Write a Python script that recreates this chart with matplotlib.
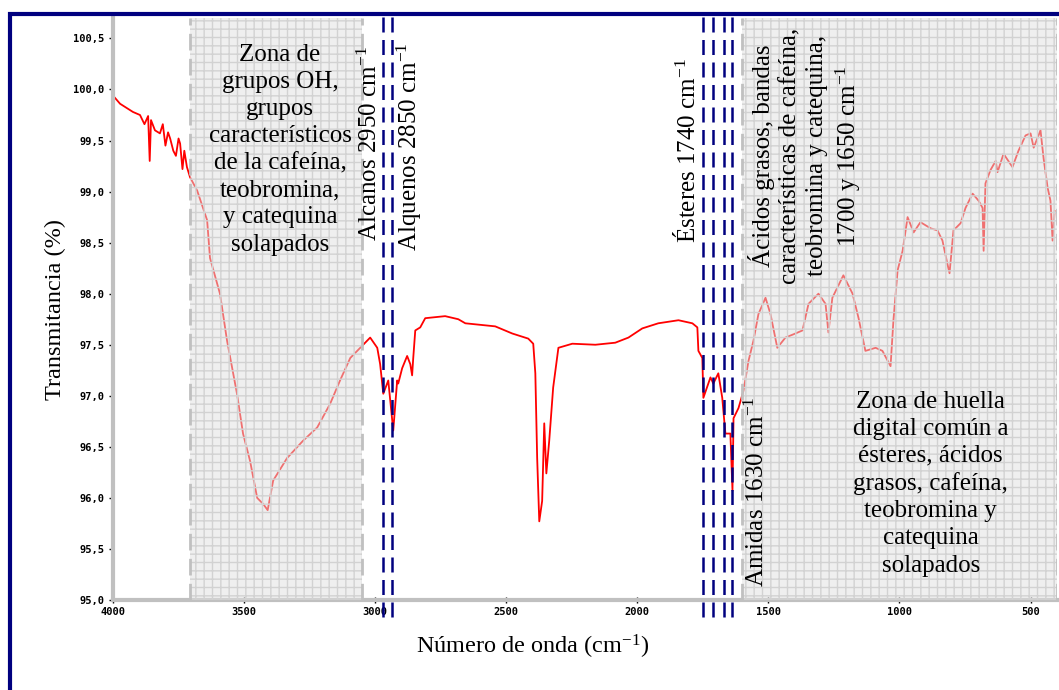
import matplotlib
matplotlib.use("Agg")
import matplotlib.pyplot as plt
from matplotlib.patches import Rectangle

# espectro FTIR (numero de onda cm-1, transmitancia %)
wavenumber = [4000, 3973, 3924, 3897, 3880, 3866, 3860, 3855, 3840, 3821, 3810, 3800, 3790,
              3782, 3770, 3760, 3750, 3744, 3735, 3728, 3718, 3706, 3679, 3641, 3630, 3592,
              3565, 3527, 3504, 3477, 3450, 3427, 3410, 3389, 3336, 3275, 3221, 3172, 3134,
              3095, 3057, 3019, 2992, 2981, 2969, 2950, 2931, 2916, 2912, 2897, 2878, 2866,
              2859, 2855, 2847, 2828, 2809, 2733, 2683, 2656, 2542, 2477, 2416, 2397, 2389,
              2382, 2374, 2363, 2355, 2347, 2336, 2321, 2301, 2275, 2248, 2160, 2084, 2034,
              1981, 1920, 1843, 1790, 1771, 1767, 1752, 1748, 1721, 1710, 1691, 1676, 1664,
              1645, 1637, 1633, 1614, 1595, 1576, 1557, 1538, 1511, 1492, 1466, 1435, 1397,
              1370, 1347, 1309, 1282, 1271, 1256, 1214, 1179, 1156, 1130, 1091, 1065, 1034,
              1023, 1007, 988, 969, 946, 920, 881, 855, 836, 817, 809, 794, 767, 748, 721,
              698, 683, 679, 672, 653, 633, 626, 603, 569, 546, 519, 500, 488, 462, 450,
              435, 424, 416, 408]
transmittance = [99.94, 99.86, 99.78, 99.75, 99.66, 99.74, 99.30, 99.70, 99.60, 99.57, 99.66,
                 99.45, 99.58, 99.52, 99.40, 99.35, 99.52, 99.47, 99.22, 99.40, 99.24, 99.14,
                 99.01, 98.72, 98.35, 98.00, 97.54, 97.02, 96.63, 96.36, 96.00, 95.94, 95.88,
                 96.17, 96.39, 96.56, 96.69, 96.92, 97.15, 97.37, 97.47, 97.57, 97.47, 97.31,
                 97.02, 97.15, 96.66, 97.15, 97.12, 97.27, 97.39, 97.31, 97.20, 97.36, 97.64,
                 97.67, 97.76, 97.78, 97.75, 97.71, 97.68, 97.61, 97.56, 97.51, 97.22, 96.39,
                 95.77, 95.97, 96.73, 96.24, 96.56, 97.08, 97.47, 97.49, 97.51, 97.50, 97.52,
                 97.57, 97.66, 97.71, 97.74, 97.71, 97.67, 97.44, 97.37, 96.98, 97.18, 97.12,
                 97.22, 96.98, 96.63, 96.63, 96.07, 96.78, 96.88, 97.05, 97.34, 97.54, 97.80,
                 97.96, 97.80, 97.47, 97.57, 97.61, 97.64, 97.90, 98.00, 97.90, 97.62, 97.96,
                 98.18, 98.00, 97.76, 97.44, 97.47, 97.44, 97.29, 97.74, 98.23, 98.42, 98.75,
                 98.60, 98.70, 98.64, 98.62, 98.52, 98.29, 98.20, 98.62, 98.69, 98.84, 98.98,
                 98.91, 98.84, 98.42, 99.08, 99.21, 99.30, 99.19, 99.37, 99.24, 99.40, 99.55,
                 99.57, 99.43, 99.60, 99.32, 99.04, 98.91, 98.52, 98.81]

# zonas sombreadas y bandas marcadas
zones = [(3706, 3050), (1600, 401)]
band_lines = [2969, 2935, 1748, 1710, 1668, 1637]

x_ticks = [4000, 3500, 3000, 2500, 2000, 1500, 1000, 500]
y_ticks = [95.0, 95.5, 96.0, 96.5, 97.0, 97.5, 98.0, 98.5, 99.0, 99.5, 100.0, 100.5]
y_tick_labels = ["95,0", "95,5", "96,0", "96,5", "97,0", "97,5", "98,0", "98,5",
                 "99,0", "99,5", "100,0", "100,5"]

serif = "Liberation Serif"
navy = "#00007f"
plt.rcParams["mathtext.fontset"] = "custom"
plt.rcParams["mathtext.rm"] = serif
plt.rcParams["mathtext.it"] = serif + ":italic"

fig = plt.figure(figsize=(10.59, 6.90), dpi=100)
ax = fig.add_axes([113 / 1059, 1 - 600 / 690, 943.5 / 1059, 582 / 690])

ax.plot(wavenumber, transmittance, color="red", lw=1.3, zorder=2)

for lo, hi in zones:
    ax.axvspan(lo, hi, facecolor="#e0e0e0", alpha=0.5, lw=0, zorder=3)
    ax.axvspan(lo, hi, fill=False, hatch="++", edgecolor="#d2d2d2", lw=0, zorder=3)
    for edge in (lo, hi):
        ax.axvline(edge, color="#c0c0c0", lw=2, dashes=(6, 3), zorder=3)

for wn in band_lines:
    ax.axvline(wn, ymin=-0.03, ymax=1.008, color=navy, lw=1.8, dashes=(6, 3),
               clip_on=False, zorder=4)

ax.set_xlim(4000, 401)
ax.set_ylim(95.0, 100.7)

ax.set_xticks(x_ticks)
ax.set_xticks(range(4000, 400, -100), minor=True)
ax.set_yticks(y_ticks)
ax.set_yticks([95.0 + 0.125 * i for i in range(46)], minor=True)

tick_font = {"family": "DejaVu Sans Mono", "weight": "bold", "size": 7.5}
ax.set_xticklabels([str(t) for t in x_ticks], fontdict=tick_font)
ax.set_yticklabels(y_tick_labels, fontdict=tick_font)
ax.tick_params(axis="both", which="major", length=3, width=1, color="black", pad=3)
ax.tick_params(axis="x", which="major", direction="inout", length=4)
ax.tick_params(axis="both", which="minor", length=1.5, width=1.5, color="black",
               direction="in")

for side in ("top", "right"):
    ax.spines[side].set_visible(False)
for side in ("left", "bottom"):
    ax.spines[side].set_color("#c0c0c0")
    ax.spines[side].set_linewidth(3)
ax.set_facecolor("white")

ax.set_xlabel("Número de onda (cm$^{-1}$)", family=serif, fontsize=17.5)
ax.xaxis.set_label_coords(0.445, -0.056)
ax.set_ylabel("Transmitancia (%)", family=serif, fontsize=17.5, labelpad=5)

txt = dict(family=serif, fontsize=18, color="black", zorder=6)
ax.text(3363, 99.41, "Zona de\ngrupos OH,\ngrupos\ncaracterísticos\nde la cafeína,\n"
        "teobromina,\ny catequina\nsolapados", ha="center", va="center",
        linespacing=1.3, **txt)
ax.text(3020, 98.52, "Alcanos 2950 cm$^{-1}$", rotation=90, ha="center", va="bottom", **txt)
ax.text(2870, 98.42, "Alquenos 2850 cm$^{-1}$", rotation=90, ha="center", va="bottom", **txt)
ax.text(1810, 98.50, "Ésteres 1740 cm$^{-1}$", rotation=90, ha="center", va="bottom", **txt)
ax.text(1359, 99.35, "Ácidos grasos, bandas\ncaracterísticas de cafeína,\n"
        "teobromina y catequina,\n1700 y 1650 cm$^{-1}$", rotation=90, ha="center",
        va="center", multialignment="center", linespacing=1.25, **txt)
ax.text(1545, 95.13, "Amidas 1630 cm$^{-1}$", rotation=90, ha="center", va="bottom", **txt)
ax.text(881, 96.14, "Zona de huella\ndigital común a\nésteres, ácidos\ngrasos, cafeína,\n"
        "teobromina y\ncatequina\nsolapados", ha="center", va="center",
        linespacing=1.3, **txt)

# marco azul exterior
fig.patches.append(Rectangle((10 / 1059, -0.2), 1.2, 1.2 - 14 / 690,
                             transform=fig.transFigure, fill=False, edgecolor=navy,
                             lw=3, zorder=10))

fig.savefig("out.png", dpi=100, facecolor="white")
